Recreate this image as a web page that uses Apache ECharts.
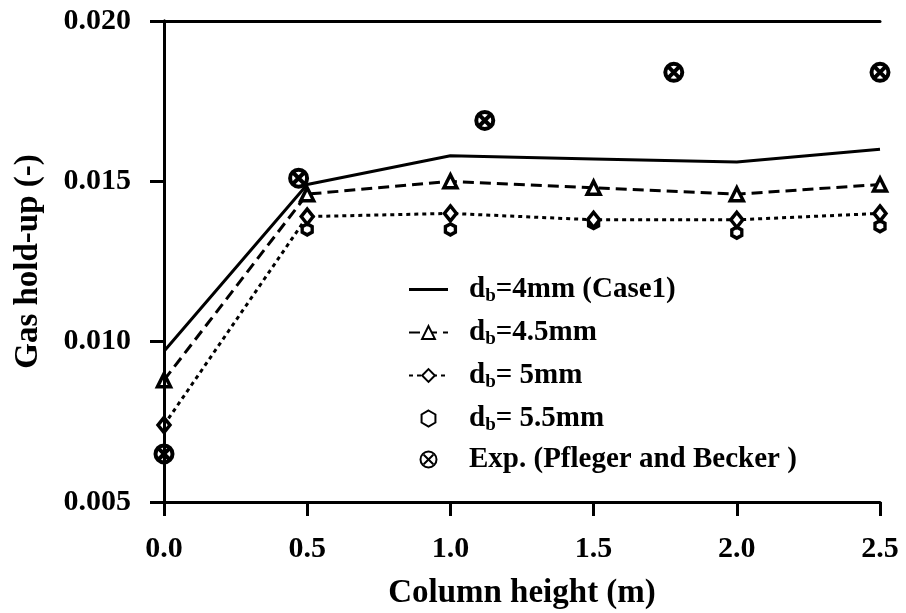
<!DOCTYPE html>
<html>
<head>
<meta charset="utf-8">
<script src="https://cdn.jsdelivr.net/npm/echarts@6/dist/echarts.min.js"></script>
<style>
  html, body { margin: 0; padding: 0; background: #fff; }
  #chart { width: 906px; height: 613px; }
</style>
</head>
<body>
<div id="chart"></div>
<script>
// Column heights (m) where the simulations were sampled
const heights = [0, 0.5, 1.0, 1.5, 2.0, 2.5];
// Gas hold-up for each bubble diameter
const holdupDb4 = [0.0097, 0.0149, 0.0158, 0.0157, 0.0156, 0.0160];
const holdupDb45 = [0.0088, 0.0146, 0.0150, 0.0148, 0.0146, 0.0149];
const holdupDb5 = [0.0074, 0.0139, 0.0140, 0.0138, 0.0138, 0.0140];
const heightsDb55 = [0.5, 1.0, 1.5, 2.0, 2.5];
const holdupDb55 = [0.0135, 0.0135, 0.0137, 0.0134, 0.0136];
// Experimental data (Pfleger and Becker)
const expHeights = [0.0, 0.47, 1.12, 1.78, 2.5];
const expHoldup = [0.0065, 0.0151, 0.0169, 0.0184, 0.0184];

// Legend entries: [prefix, subscript, suffix]
const legendParts = {
  s1: ['d', 'b', '=4mm (Case1)'],
  s2: ['d', 'b', '=4.5mm'],
  s3: ['d', 'b', '= 5mm'],
  s4: ['d', 'b', '= 5.5mm'],
  s5: ['Exp. (Pfleger and Becker )', '', '']
};

const xTicks = ['0.0', '0.5', '1.0', '1.5', '2.0', '2.5'];

const pairs = (xs, ys) => xs.map((x, i) => [x, ys[i]]);

const FONT = '"Liberation Serif", "Times New Roman", serif';
const hexPath = 'path://M0,-10 L8.66,-5 L8.66,5 L0,10 L-8.66,5 L-8.66,-5 Z';
const otimesPath = 'path://M10,0 A10,10 0 1,1 -10,0 A10,10 0 1,1 10,0 Z M-6,-6 L6,6 M6,-6 L-6,6';
const solidLegendPath = 'path://M0,0 L40,0 L40,3 L0,3 Z';

const axisLine = { show: true, lineStyle: { color: '#000', width: 3 } };
const tick = { show: true, inside: false, length: 14, lineStyle: { color: '#000', width: 3 } };

const chart = echarts.init(document.getElementById('chart'), null, { renderer: 'canvas' });

chart.setOption({
  animation: false,
  backgroundColor: '#fff',
  grid: { left: 164, right: 26, top: 21, bottom: 111, containLabel: false, outerBoundsMode: 'none' },
  xAxis: [
    {
      type: 'value', min: 0, max: 2.5, interval: 0.5, z: 10,
      axisLine: axisLine, axisTick: tick,
      axisLabel: {
        color: '#000', fontFamily: FONT, fontWeight: 'bold', fontSize: 30, margin: 32,
        formatter: (v) => xTicks[Math.round(v / 0.5)]
      },
      splitLine: { show: false },
      name: 'Column height (m)', nameLocation: 'middle', nameGap: 75,
      nameTextStyle: { color: '#000', fontFamily: FONT, fontWeight: 'bold', fontSize: 33 }
    },
    {
      type: 'value', position: 'top', min: 0, max: 2.5, z: 10,
      axisLine: axisLine, axisTick: { show: false }, axisLabel: { show: false },
      splitLine: { show: false }
    }
  ],
  yAxis: [
    {
      type: 'value', min: 0.005, max: 0.020, interval: 0.005, z: 10,
      axisLine: axisLine, axisTick: tick,
      axisLabel: {
        color: '#000', fontFamily: FONT, fontWeight: 'bold', fontSize: 30, margin: 33,
        formatter: (v) => v.toFixed(3)
      },
      splitLine: { show: false },
      name: 'Gas hold-up (-)', nameLocation: 'middle', nameGap: 119, nameRotate: 90,
      nameTextStyle: { color: '#000', fontFamily: FONT, fontWeight: 'bold', fontSize: 33 }
    },
    {
      type: 'value', position: 'right', min: 0.005, max: 0.020, z: 10,
      axisLine: axisLine, axisTick: { show: false }, axisLabel: { show: false },
      splitLine: { show: false }
    }
  ],
  legend: {
    orient: 'vertical', left: 403, top: 268, itemGap: 10,
    itemWidth: 39, itemHeight: 16,
    data: [
      { name: 's1', icon: solidLegendPath },
      's2', 's3', 's4', 's5'
    ],
    formatter: (name) => {
      const p = legendParts[name];
      return p[1] ? `{m|${p[0]}}{s|${p[1]}}{m|${p[2]}}` : `{m|${p[0]}}`;
    },
    textStyle: {
      color: '#000', fontFamily: FONT, fontWeight: 'bold', fontSize: 29, padding: [0, 0, 0, 16],
      rich: {
        m: { fontFamily: FONT, fontWeight: 'bold', fontSize: 29, lineHeight: 34, color: '#000' },
        s: { fontFamily: FONT, fontWeight: 'bold', fontSize: 19, lineHeight: 20, color: '#000', padding: [14, 0, 0, 0] }
      }
    }
  },
  series: [
    {
      name: 's1', type: 'line', data: pairs(heights, holdupDb4), clip: false,
      symbol: 'none', showSymbol: false,
      lineStyle: { color: '#000', width: 3, type: 'solid' },
      itemStyle: { color: '#000' }
    },
    {
      name: 's2', type: 'line', data: pairs(heights, holdupDb45), clip: false,
      symbol: 'triangle', symbolSize: 13,
      lineStyle: { color: '#000', width: 3, type: [11, 6] },
      itemStyle: { color: '#fff', borderColor: '#000', borderWidth: 3.5, opacity: 1 }
    },
    {
      name: 's3', type: 'line', data: pairs(heights, holdupDb5), clip: false,
      symbol: 'diamond', symbolSize: [12, 15],
      lineStyle: { color: '#000', width: 3, type: [4, 4] },
      itemStyle: { color: '#fff', borderColor: '#000', borderWidth: 3.5, opacity: 1 }
    },
    {
      name: 's4', type: 'scatter', data: pairs(heightsDb55, holdupDb55), clip: false,
      symbol: hexPath, symbolSize: [10, 11],
      itemStyle: { color: '#fff', borderColor: '#000', borderWidth: 3.5, opacity: 1 }
    },
    {
      name: 's5', type: 'scatter', data: pairs(expHeights, expHoldup), clip: false,
      symbol: otimesPath, symbolSize: 17,
      itemStyle: { color: '#fff', borderColor: '#000', borderWidth: 4, opacity: 1 }
    }
  ]
});
</script>
</body>
</html>
